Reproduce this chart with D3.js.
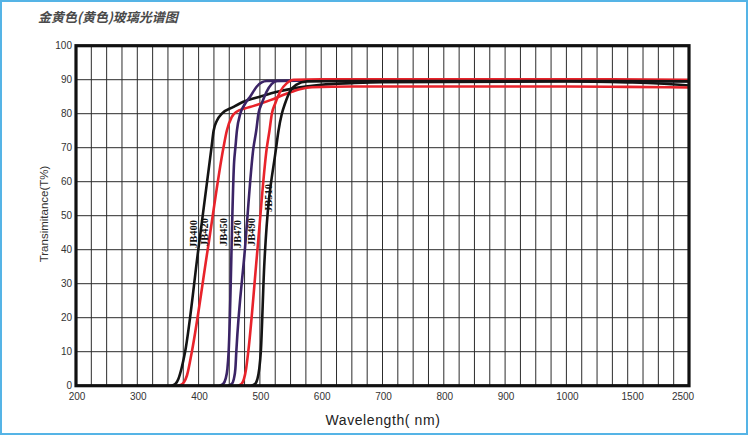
<!DOCTYPE html>
<html>
<head>
<meta charset="utf-8">
<script src="https://cdn.jsdelivr.net/npm/d3@7"></script>
<style>
  html, body { margin: 0; padding: 0; background: #fff; }
  svg { display: block; }
</style>
</head>
<body>
<div id="chart"></div>
<script>
// tick labels on the axes
const waveTicks = [200, 300, 400, 500, 600, 700, 800, 900, 1000, 1500, 2500];
const tTicks = [0, 10, 20, 30, 40, 50, 60, 70, 80, 90, 100];

// filter names and the spot where each name is written [nm, T%]
const filterNames = ['JB400', 'JB420', 'JB450', 'JB470', 'JB490', 'JB510'];
const labelSpots = [[392, 44.6], [409, 45.2], [440, 45.2], [463.5, 44.6], [486.5, 45.2], [513.5, 55.2]];

// transmission curves, [wavelength nm, T%]
const jb400 = [[356,0],[362,0.5],[367,2],[372,5],[378,10],[399.5,40],[421,70],[424.5,75],[430,78],[438,80],[457,82],[473,83.5],[500,85],[530,86.5],[560,87.6],[600,88.5],[650,89],[700,89.3],[1000,89.5],[1500,89.2],[2000,88.9],[2500,88.3]];
const jb420 = [[366,0],[372,0.3],[376,1],[381,3],[389,10],[414.8,40],[440.5,70],[446,75],[454,79],[462,80.6],[475,81.5],[490,82.3],[517,84],[545,86],[565,87.2],[585,87.8],[650,88],[1000,88],[1500,87.9],[2500,87.7]];
const jb450 = [[434,0],[440,0.5],[444,2],[447,5],[449,10],[458,66],[460,70],[462.5,75],[468,80],[476,83],[484,85],[495,88],[503,89.2],[511,89.6],[550,89.7],[1000,89.7],[2500,89.6]];
const jb470 = [[448,0],[454,0.5],[457.5,2],[460,5],[461.5,10],[475.5,40],[489.5,70],[494,75],[497.6,80],[503,83],[511,86.5],[519,88.7],[528,89.6],[560,89.7],[1000,89.7],[2500,89.6]];
const jb490 = [[464,0],[470,0.5],[474,2],[477.5,5],[481,10],[496,40],[511.3,70],[515.6,75],[519.5,80],[525,83],[533,86.5],[544,89],[555,90],[600,90.1],[1000,90.1],[2500,90]];
const jb510 = [[486,0],[492,0.5],[496,2],[499,5],[501.5,10],[507,35],[526.5,70],[530.3,75],[535.8,80],[541,83],[549,86.5],[559,88.5],[577,89.5],[650,89.6],[1000,89.6],[2500,89.5]];

const curves = [jb400, jb420, jb450, jb470, jb490, jb510];
const curveColors = ['#141414', '#e8232b', '#3b2466', '#3b2466', '#e8232b', '#141414'];

const W = 750, H = 436;
const plotLeft = 76, plotRight = 689, plotTop = 45.7, plotBottom = 385.7;
const unit = (plotRight - plotLeft) / 40;

const svg = d3.select('#chart')
    .append('svg')
    .attr('width', W)
    .attr('height', H);

// light blue picture border
svg.append('rect')
    .attr('x', 1).attr('y', 1)
    .attr('width', 746).attr('height', 433)
    .attr('fill', 'none')
    .attr('stroke', '#55b4e6')
    .attr('stroke-width', 2);

// wavelength axis is stretched: 25 nm per cell up to 1000, then coarser
const x = d3.scaleLinear()
    .domain([200, 1000, 1500, 2500])
    .range([plotLeft, plotLeft + 32 * unit, plotLeft + 36 * unit, plotRight]);

const y = d3.scaleLinear()
    .domain([0, 100])
    .range([plotBottom, plotTop]);

// grid
const gridX = d3.range(200, 1000, 25)
    .concat(d3.range(1000, 1500, 125))
    .concat(d3.range(1500, 2501, 250));

svg.append('g')
    .selectAll('line')
    .data(gridX)
    .enter()
    .append('line')
    .attr('x1', d => x(d)).attr('x2', d => x(d))
    .attr('y1', plotTop).attr('y2', plotBottom)
    .attr('stroke', '#2c2c2c')
    .attr('stroke-width', 1);

svg.append('g')
    .selectAll('line')
    .data(tTicks)
    .enter()
    .append('line')
    .attr('x1', plotLeft).attr('x2', plotRight)
    .attr('y1', d => y(d)).attr('y2', d => y(d))
    .attr('stroke', '#2c2c2c')
    .attr('stroke-width', 1);

// curves
const line = d3.line()
    .x(d => x(d[0]))
    .y(d => y(d[1]))
    .curve(d3.curveMonotoneX);

svg.append('g')
    .selectAll('path')
    .data(curves)
    .enter()
    .append('path')
    .attr('d', line)
    .attr('fill', 'none')
    .attr('stroke', (d, i) => curveColors[i])
    .attr('stroke-width', 2.6)
    .attr('stroke-linejoin', 'round');

// heavy frame
svg.append('rect')
    .attr('x', plotLeft).attr('y', plotTop)
    .attr('width', plotRight - plotLeft).attr('height', plotBottom - plotTop)
    .attr('fill', 'none')
    .attr('stroke', '#111')
    .attr('stroke-width', 3.2);

// filter names, written upward
svg.append('g')
    .selectAll('text')
    .data(filterNames)
    .enter()
    .append('text')
    .attr('transform', (d, i) => `translate(${x(labelSpots[i][0])},${y(labelSpots[i][1])}) rotate(-90)`)
    .attr('text-anchor', 'middle')
    .attr('dy', '0.35em')
    .attr('font-family', '"Liberation Serif", "DejaVu Serif", serif')
    .attr('font-weight', 'bold')
    .attr('font-size', 10.5)
    .attr('fill', '#111')
    .text(d => d);

// tick labels
svg.append('g')
    .selectAll('text')
    .data(tTicks)
    .enter()
    .append('text')
    .attr('x', plotLeft - 4)
    .attr('y', d => y(d))
    .attr('dy', '0.35em')
    .attr('text-anchor', 'end')
    .attr('font-family', '"Liberation Sans", Arial, sans-serif')
    .attr('font-size', 10)
    .attr('fill', '#333')
    .text(d => d);

svg.append('g')
    .selectAll('text')
    .data(waveTicks)
    .enter()
    .append('text')
    .attr('x', d => x(d))
    .attr('dx', d => d === 1500 ? 5 : d === 2500 ? -6 : 1)
    .attr('y', 400)
    .attr('text-anchor', 'middle')
    .attr('font-family', '"Liberation Sans", Arial, sans-serif')
    .attr('font-size', 10)
    .attr('fill', '#333')
    .text(d => d);

// axis titles
svg.append('text')
    .attr('x', 383)
    .attr('y', 425)
    .attr('text-anchor', 'middle')
    .attr('font-family', '"Liberation Sans", Arial, sans-serif')
    .attr('font-size', 14)
    .attr('letter-spacing', 0.6)
    .attr('fill', '#222')
    .text('Wavelength( nm)');

svg.append('text')
    .attr('transform', 'translate(48,214) rotate(-90)')
    .attr('text-anchor', 'middle')
    .attr('font-family', '"Liberation Sans", Arial, sans-serif')
    .attr('font-size', 11.5)
    .attr('fill', '#333')
    .text('Transimitance(T%)');

// chart title
svg.append('text')
    .attr('x', 38)
    .attr('y', 22)
    .attr('font-family', '"Noto Sans CJK SC", sans-serif')
    .attr('font-style', 'italic')
    .attr('font-weight', 'bold')
    .attr('font-size', 13)
    .attr('fill', '#4a4a4a')
    .text('金黄色(黄色)玻璃光谱图');
</script>
</body>
</html>
